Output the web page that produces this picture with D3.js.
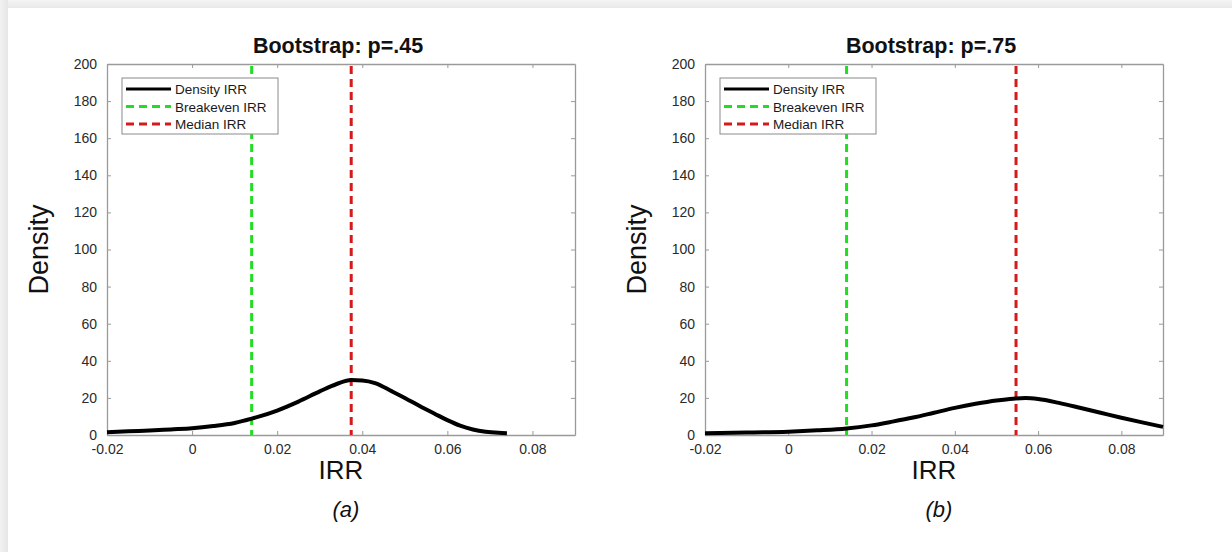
<!DOCTYPE html>
<html>
<head>
<meta charset="utf-8">
<script src="https://cdn.jsdelivr.net/npm/d3@7"></script>
<style>
  body { margin: 0; background: #fff; }
  svg { display: block; font-family: "Liberation Sans", Arial, sans-serif; }
</style>
</head>
<body>
<svg id="chart" width="1232" height="552"></svg>
<script>
// ticks
const xTicks = [-0.02, 0, 0.02, 0.04, 0.06, 0.08];
const yTicks = [0, 20, 40, 60, 80, 100, 120, 140, 160, 180, 200];
const legendLabels = ["Density IRR", "Breakeven IRR", "Median IRR"];

// panel (a): p=.45
const irrA  = [-0.02, -0.015, -0.01, -0.005, 0, 0.005, 0.01, 0.014, 0.02, 0.025, 0.03, 0.034, 0.0374, 0.04, 0.043, 0.047, 0.05, 0.054, 0.057, 0.06, 0.063, 0.066, 0.069, 0.072, 0.074];
const densA = [1.5, 2.0, 2.4, 3.0, 3.6, 4.8, 6.5, 8.8, 13.2, 18.0, 23.5, 27.5, 29.6, 29.4, 28.0, 23.5, 20.0, 15.0, 11.5, 8.0, 5.0, 3.0, 1.8, 1.2, 1.0];
const breakevenA = 0.014;
const medianA = 0.0374;

// panel (b): p=.75
const irrB  = [-0.02, -0.01, 0, 0.007, 0.014, 0.02, 0.025, 0.03, 0.035, 0.04, 0.045, 0.05, 0.054, 0.057, 0.06, 0.065, 0.07, 0.075, 0.08, 0.085, 0.09];
const densB = [1.0, 1.3, 1.8, 2.5, 3.5, 5.2, 7.2, 9.4, 12.0, 14.6, 16.8, 18.6, 19.6, 19.9, 19.4, 17.3, 14.7, 12.0, 9.3, 6.8, 4.4];
const breakevenB = 0.014;
const medianB = 0.0547;

const svg = d3.select("#chart");

// page backdrop: grey strip on top / left, white sheet
const defs = svg.append("defs");
const gl = defs.append("linearGradient").attr("id", "shadeL");
gl.append("stop").attr("offset", "0%").attr("stop-color", "#f2f2f2");
gl.append("stop").attr("offset", "100%").attr("stop-color", "#e6e6e6");
const gt = defs.append("linearGradient").attr("id", "shadeT").attr("x1", 0).attr("x2", 0).attr("y1", 0).attr("y2", 1);
gt.append("stop").attr("offset", "0%").attr("stop-color", "#f4f4f4");
gt.append("stop").attr("offset", "100%").attr("stop-color", "#e8e8e8");
svg.append("rect").attr("width", 1232).attr("height", 552).attr("fill", "#fff");
svg.append("rect").attr("x", 0).attr("y", 0).attr("width", 8).attr("height", 552).attr("fill", "url(#shadeL)");
svg.append("rect").attr("x", 8).attr("y", 0).attr("width", 1224).attr("height", 8).attr("fill", "url(#shadeT)");

// matlab style labels: plain hyphen, no trailing zeros
const fmt = d => String(+d.toFixed(2)).replace(/^0\./, "0.").replace(/^-0\./, "-0.");

function drawPanel(left, right, title, caption, irr, dens, breakeven, median) {
  const top = 64, bottom = 435;
  const x = d3.scaleLinear().domain([-0.02, 0.09]).range([left, right]);
  const y = d3.scaleLinear().domain([0, 200]).range([bottom, top]);
  const g = svg.append("g");

  // axes, ticks pointing inward
  const axB = g.append("g").attr("transform", `translate(0,${bottom})`)
    .call(d3.axisBottom(x).tickValues(xTicks).tickFormat(fmt).tickSizeInner(-4).tickSizeOuter(0).tickPadding(9));
  const axT = g.append("g").attr("transform", `translate(0,${top})`)
    .call(d3.axisTop(x).tickValues(xTicks).tickFormat("").tickSizeInner(-4).tickSizeOuter(0));
  const axL = g.append("g").attr("transform", `translate(${left},0)`)
    .call(d3.axisLeft(y).tickValues(yTicks).tickSizeInner(-4).tickSizeOuter(0).tickPadding(10));
  const axR = g.append("g").attr("transform", `translate(${right},0)`)
    .call(d3.axisRight(y).tickValues(yTicks).tickFormat("").tickSizeInner(-4).tickSizeOuter(0));
  [axB, axT, axL, axR].forEach(a => {
    a.select(".domain").attr("stroke", "#9a9a9a").attr("stroke-width", 1.3);
    a.selectAll(".tick line").attr("stroke", "#9a9a9a");
    a.selectAll(".tick text").attr("fill", "#2a2a2a").attr("font-size", 14)
      .attr("font-family", "\"Liberation Sans\", Arial, sans-serif");
  });

  // vertical reference lines
  g.append("line").attr("x1", x(breakeven)).attr("x2", x(breakeven))
    .attr("y1", top + 2).attr("y2", bottom)
    .attr("stroke", "#22dd22").attr("stroke-width", 3).attr("stroke-dasharray", "8,5");
  g.append("line").attr("x1", x(median)).attr("x2", x(median))
    .attr("y1", top + 2).attr("y2", bottom)
    .attr("stroke", "#d41a1a").attr("stroke-width", 3).attr("stroke-dasharray", "8,5");

  // density curve
  const line = d3.line().x(d => x(d[0])).y(d => y(d[1])).curve(d3.curveMonotoneX);
  g.append("path").datum(irr.map((v, i) => [v, dens[i]]))
    .attr("d", line).attr("fill", "none").attr("stroke", "#000").attr("stroke-width", 4);

  // legend
  const lx = left + 15, ly = 78;
  const lg = g.append("g").attr("transform", `translate(${lx},${ly})`);
  lg.append("rect").attr("width", 156).attr("height", 56).attr("fill", "#fff")
    .attr("stroke", "#8a8a8a").attr("stroke-width", 1);
  const styles = [
    { c: "#000", dash: null },
    { c: "#22dd22", dash: "8,5" },
    { c: "#d41a1a", dash: "8,5" }
  ];
  legendLabels.forEach((lab, i) => {
    const ry = 11 + i * 17.5;
    lg.append("line").attr("x1", 4).attr("x2", 49).attr("y1", ry).attr("y2", ry)
      .attr("stroke", styles[i].c).attr("stroke-width", 3)
      .attr("stroke-dasharray", styles[i].dash);
    lg.append("text").attr("x", 53).attr("y", ry + 5).attr("font-size", 13.5)
      .attr("fill", "#1a1a1a").text(lab);
  });

  // titles and labels
  const cx = (left + right) / 2;
  g.append("text").attr("x", cx - 3).attr("y", 53).attr("text-anchor", "middle")
    .attr("font-size", 21.5).attr("font-weight", "bold").attr("fill", "#111").text(title);
  g.append("text").attr("x", cx).attr("y", 479).attr("text-anchor", "middle")
    .attr("font-size", 26).attr("fill", "#111").text("IRR");
  g.append("text").attr("transform", `translate(${left - 59},${(top + bottom) / 2}) rotate(-90)`)
    .attr("text-anchor", "middle").attr("font-size", 27).attr("fill", "#111").text("Density");
  g.append("text").attr("x", cx + 5).attr("y", 517).attr("text-anchor", "middle")
    .attr("font-size", 22).attr("font-style", "italic").attr("fill", "#111").text(caption);
}

drawPanel(107, 575, "Bootstrap: p=.45", "(a)", irrA, densA, breakevenA, medianA);
drawPanel(705, 1163, "Bootstrap: p=.75", "(b)", irrB, densB, breakevenB, medianB);
</script>
</body>
</html>
